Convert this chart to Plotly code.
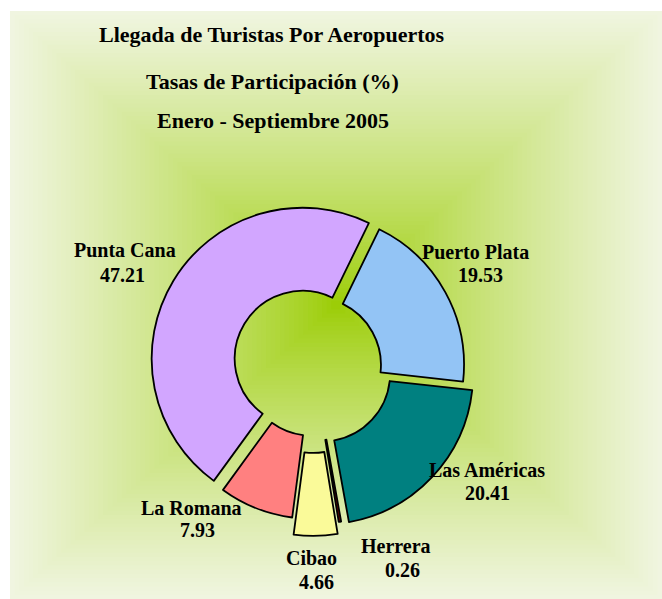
import plotly.graph_objects as go

# ---------------- data ----------------
labels = ["Puerto Plata", "Las Américas", "Herrera", "Cibao", "La Romana", "Punta Cana"]
values = [19.53, 20.41, 0.26, 4.66, 7.93, 47.21]
colors = ["#93C4F5", "#008080", "#800000", "#FAFA99", "#FF8080", "#D2A6FF"]
pulls = [0.0, 0.083, 0.053, 0.132, 0.02, 0.08]

title_lines = ["Llegada de Turistas Por Aeropuertos",
               "Tasas de Participación (%)",
               "Enero - Septiembre 2005"]

# label positions (pixels from top-left) - layout only: (name xy, value xy)
name_pos = [(475, 252), (487, 470), (396, 546), (311, 558), (191, 508), (125, 250)]
value_pos = [(480, 275), (487, 493), (402, 570), (316, 582), (197, 530), (122, 275)]
title_pos = [(272, 35), (272, 81), (273, 121)]

W, H = 662, 599

fig = go.Figure()

# ---------------- background gradient (rectangular, from center) ----------------
cx_bg, cy_bg = 336, 305
hw, hh = 326, 294
c_center = (153, 204, 0)
c_edge = (240, 245, 224)
N = 70
shapes = []
for i in range(N, 0, -1):
    t = i / N
    f = t ** 0.8
    col = tuple(int(round(c_center[k] + (c_edge[k] - c_center[k]) * f)) for k in range(3))
    x0 = (cx_bg - hw * t) / W
    x1 = (cx_bg + hw * t) / W
    y0 = 1 - (cy_bg + hh * t) / H
    y1 = 1 - (cy_bg - hh * t) / H
    shapes.append(dict(type="rect", xref="paper", yref="paper",
                       x0=x0, x1=x1, y0=y0, y1=y1,
                       fillcolor="rgb(%d,%d,%d)" % col, line=dict(width=0),
                       layer="below"))

# ---------------- pie ----------------
R = 151
cxp, cyp = 313, 365
box = 2 * R * (1 + max(pulls))
fig.add_trace(go.Pie(
    labels=labels, values=values, sort=False, direction="clockwise",
    rotation=26, hole=0.45, pull=pulls,
    marker=dict(colors=colors, line=dict(color="black", width=1.8)),
    textinfo="none", hoverinfo="label+value", showlegend=False,
    domain=dict(x=[(cxp - box / 2) / W, (cxp + box / 2) / W],
                y=[(H - cyp - box / 2) / H, (H - cyp + box / 2) / H]),
))

annotations = []
lab_font = dict(family="Liberation Serif", size=20, color="black")
for lab, val, (nx, ny), (vx, vy) in zip(labels, values, name_pos, value_pos):
    annotations.append(dict(
        text="<b>%s</b>" % lab, x=nx / W, y=1 - ny / H,
        xref="paper", yref="paper", xanchor="center", yanchor="middle",
        showarrow=False, font=lab_font))
    annotations.append(dict(
        text="<b>%.2f</b>" % val, x=vx / W, y=1 - vy / H,
        xref="paper", yref="paper", xanchor="center", yanchor="middle",
        showarrow=False, font=lab_font))

for txt, (px, py) in zip(title_lines, title_pos):
    annotations.append(dict(
        text="<b>%s</b>" % txt, x=px / W, y=1 - py / H,
        xref="paper", yref="paper", xanchor="center", yanchor="middle",
        showarrow=False,
        font=dict(family="Liberation Serif", size=22, color="black")))

fig.update_layout(
    width=W, height=H, margin=dict(l=0, r=0, t=0, b=0),
    paper_bgcolor="white", plot_bgcolor="white",
    shapes=shapes, annotations=annotations,
)

fig.write_html("out.html",
               config={"displayModeBar": False},
               post_script="document.body.style.margin='0';document.body.style.overflow='hidden';")
